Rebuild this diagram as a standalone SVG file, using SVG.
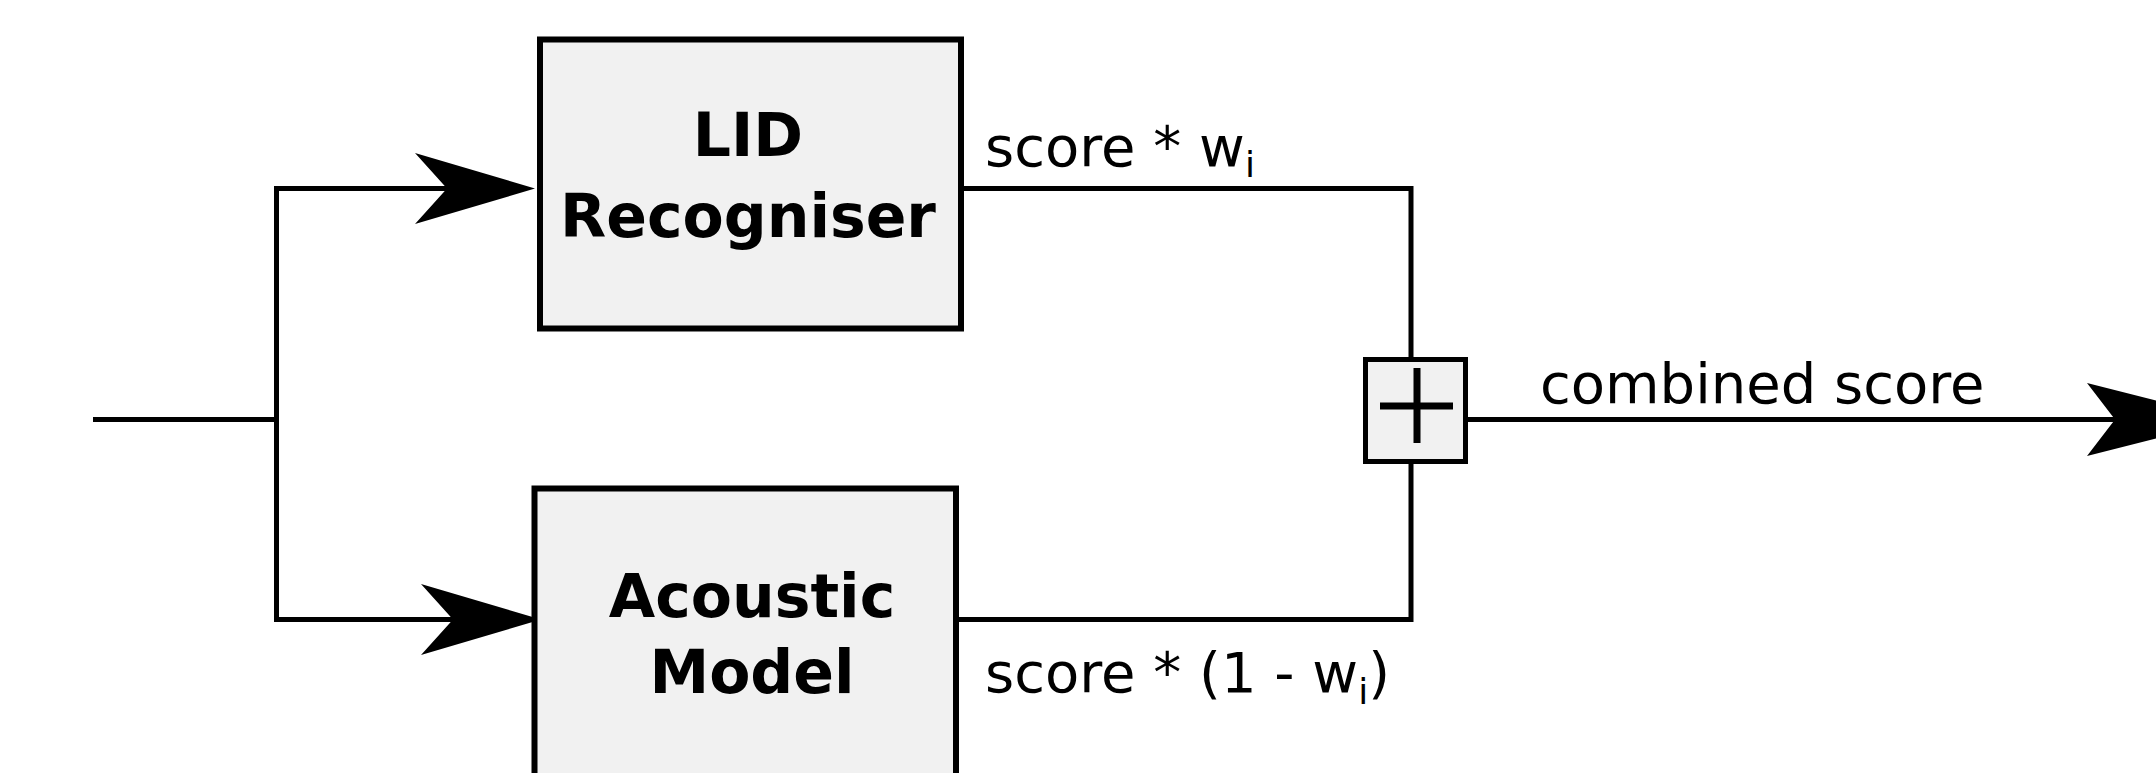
<svg xmlns="http://www.w3.org/2000/svg" width="2156" height="773" viewBox="0 0 2156 773">
<style>
.box{fill:#f1f1f1;stroke:#000;stroke-width:6}
.wire{fill:none;stroke:#000;stroke-width:5}
.head{fill:#000;stroke:none}
.lbl{font-family:"DejaVu Sans",sans-serif;font-size:56px;fill:#000}
.sub{font-size:36px}
.title{font-family:"DejaVu Sans",sans-serif;font-size:60px;font-weight:bold;text-anchor:middle;fill:#000}
</style>
<rect width="2156" height="773" fill="#fff"/>
<g id="connectors">
<path class="wire" d="M93,419.5 H276.5 M276.5,188.5 V619.5 M274,188.5 H450 M274,619.5 H455"/>
<path class="head" d="M535,188.5 L415,153 L447,188.5 L415,224 Z"/>
<path class="head" d="M541,619.5 L421,584 L453,619.5 L421,655 Z"/>
<path class="wire" d="M961,188.5 H1411 V359.5"/>
<path class="wire" d="M956,619.5 H1411 V461.5"/>
<path class="wire" d="M1465.5,419.5 H2120"/>
<path class="head" d="M2230,419.5 L2087,383 L2115,419.5 L2087,456 Z"/>
</g>
<g id="lid">
<rect class="box" x="540" y="39.5" width="421" height="289"/>
<text class="title" x="748" y="156">LID</text>
<text class="title" x="748" y="237">Recogniser</text>
</g>
<g id="acoustic">
<rect class="box" x="534.5" y="488.5" width="421.5" height="400"/>
<text class="title" x="752" y="617">Acoustic</text>
<text class="title" x="752" y="693">Model</text>
</g>
<g id="sum">
<rect class="box" x="1365.5" y="359.5" width="100" height="102" style="stroke-width:5"/>
<path d="M1417,368 V443 M1380,406 H1453" fill="none" stroke="#000" stroke-width="7"/>
</g>
<g id="labels">
<text class="lbl" x="985" y="166">score * w<tspan class="sub" dy="11">i</tspan></text>
<text class="lbl" x="985" y="692">score * (1 - w<tspan class="sub" dy="12">i</tspan><tspan dy="-12">)</tspan></text>
<text class="lbl" x="1540" y="403">combined score</text>
</g>
</svg>
